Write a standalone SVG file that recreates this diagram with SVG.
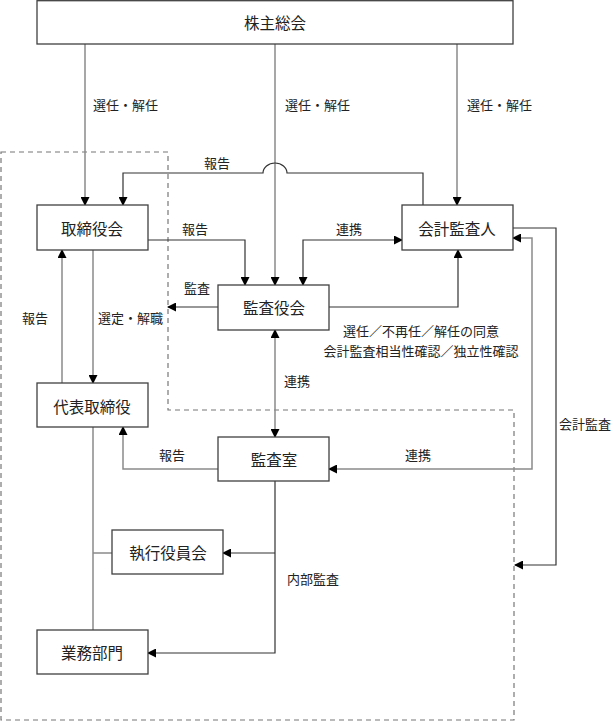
<svg xmlns="http://www.w3.org/2000/svg" width="613" height="721" viewBox="0 0 613 721">
<style>
.box{fill:#fff;stroke:#404040;stroke-width:1.3}
.bt{font-family:"Noto Sans CJK JP","Noto Sans",sans-serif;font-size:15.5px;fill:#222;text-anchor:middle;dominant-baseline:central}
.lb{font-family:"Noto Sans CJK JP","Noto Sans",sans-serif;font-size:13px;fill:#222;dominant-baseline:central}
.k{fill:none;stroke:#333;stroke-width:1.2}
.g{fill:none;stroke:#8a8a8a;stroke-width:1.5}
.a{marker-end:url(#ah)}
.aa{marker-start:url(#ah);marker-end:url(#ah)}
.dash{fill:none;stroke:#777;stroke-width:1.2;stroke-dasharray:5,4}
</style>
<defs>
<marker id="ah" markerUnits="userSpaceOnUse" markerWidth="9" markerHeight="9" refX="8" refY="4.5" orient="auto-start-reverse">
<path d="M0,0 L9,4.5 L0,9 z" fill="#000"/>
</marker>
</defs>
<path class="dash" d="M1,152 H168 V410 H514 V720 H1 Z"/>
<g id="connectors">
<path class="g a" d="M85,44 V205"/>
<path class="g a" d="M275,44 V285"/>
<path class="g a" d="M457,44 V205"/>
<path class="k a" d="M423,205 V173 H287 A12,10 0 0 0 263,173 H123 V205"/>
<path class="k a" d="M148,240 H245 V285"/>
<path class="k a" d="M218,307 H168"/>
<path class="k aa" d="M303,285 V240 H402"/>
<path class="k a" d="M329,307 H458 V250"/>
<path class="k a" d="M513,228 H556 V565 H515"/>
<path class="g aa" d="M329,469 H532 V238 H513"/>
<path class="g aa" d="M275,330 V437"/>
<path class="g a" d="M93,250 V383"/>
<path class="g a" d="M62,383 V250"/>
<path class="g a" d="M218,469 H123 V427"/>
<path class="g" d="M93,427 V630"/>
<path class="g" d="M93,553 H112"/>
<path class="k a" d="M275,481 V653 H148"/>
<path class="k a" d="M275,553 H223"/>
</g>
<g id="labels">
<text class="lb" x="93" y="104">選任・解任</text>
<text class="lb" x="285" y="104">選任・解任</text>
<text class="lb" x="467" y="104">選任・解任</text>
<text class="lb" x="204" y="162">報告</text>
<text class="lb" x="182" y="228">報告</text>
<text class="lb" x="336" y="228">連携</text>
<text class="lb" x="184" y="287">監査</text>
<text class="lb" x="22" y="317">報告</text>
<text class="lb" x="98" y="317">選定・解職</text>
<text class="lb" x="421" y="330" text-anchor="middle">選任／不再任／解任の同意</text>
<text class="lb" x="421" y="350" text-anchor="middle">会計監査相当性確認／独立性確認</text>
<text class="lb" x="284" y="380">連携</text>
<text class="lb" x="559" y="423">会計監査</text>
<text class="lb" x="159" y="454">報告</text>
<text class="lb" x="405" y="454">連携</text>
<text class="lb" x="287" y="578">内部監査</text>
</g>
<g id="kabunushi"><rect class="box" x="37" y="0.7" width="476" height="43.3"/><text class="bt" x="275" y="22">株主総会</text></g>
<g id="torishimariyakukai"><rect class="box" x="37" y="205" width="111" height="45"/><text class="bt" x="92" y="228">取締役会</text></g>
<g id="kaikeikansanin"><rect class="box" x="402" y="205" width="111" height="45"/><text class="bt" x="457" y="228">会計監査人</text></g>
<g id="kansayakukai"><rect class="box" x="218" y="285" width="111" height="45"/><text class="bt" x="274" y="307">監査役会</text></g>
<g id="daihyo"><rect class="box" x="37" y="383" width="111" height="44"/><text class="bt" x="92" y="406">代表取締役</text></g>
<g id="kansashitsu"><rect class="box" x="218" y="437" width="111" height="44"/><text class="bt" x="274" y="459">監査室</text></g>
<g id="shikkou"><rect class="box" x="112" y="530" width="111" height="44"/><text class="bt" x="168" y="552">執行役員会</text></g>
<g id="gyomu"><rect class="box" x="37" y="630" width="111" height="44"/><text class="bt" x="92" y="652">業務部門</text></g>
</svg>
